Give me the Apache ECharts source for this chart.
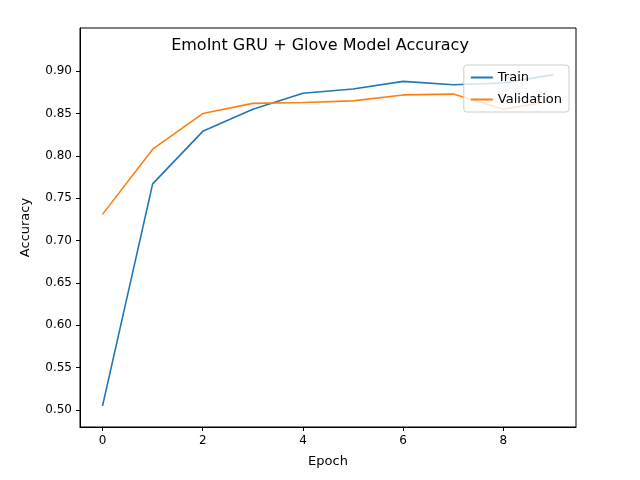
<!DOCTYPE html>
<html><head><meta charset="utf-8">
<script src="https://cdn.jsdelivr.net/npm/echarts@6/dist/echarts.min.js"></script>
<style>html,body{margin:0;background:#fff}#c{width:640px;height:480px}</style>
</head><body><div id="c"></div>
<script>
const epochs = [0,1,2,3,4,5,6,7,8,9];
const train = [0.505,0.767,0.829,0.855,0.874,0.879,0.888,0.884,0.886,0.896];
const validation = [0.731,0.808,0.850,0.862,0.863,0.865,0.872,0.873,0.855,0.865];
const xTicks = [0,2,4,6,8];
const yTicks = [0.5,0.55,0.6,0.65,0.7,0.75,0.8,0.85,0.9];
const font = 'DejaVu Sans';
const chart = echarts.init(document.getElementById('c'));
chart.setOption({
  animation:false,
  textStyle:{fontFamily:font},
  title:{text:'EmoInt GRU + Glove Model Accuracy',left:'center',top:33,textStyle:{fontFamily:font,fontSize:16,fontWeight:'normal',color:'#000'}},
  grid:{left:80,right:64,top:28,bottom:53,show:true,borderColor:'#000',borderWidth:1},
  legend:{right:71,top:65,orient:'vertical',itemWidth:22,itemHeight:2,itemGap:9,
    backgroundColor:'rgba(255,255,255,0.8)',borderColor:'#ccc',borderWidth:1,borderRadius:3,padding:[6,7],
    textStyle:{fontFamily:font,fontSize:13,color:'#000'},
    data:[{name:'Train',icon:'rect'},{name:'Validation',icon:'rect'}]},
  xAxis:{type:'value',min:-0.45,max:9.45,name:'Epoch',nameLocation:'middle',nameGap:28,
    nameTextStyle:{fontFamily:font,fontSize:13,color:'#000'},
    axisLine:{show:true,onZero:false,lineStyle:{color:'#000'}},splitLine:{show:false},
    axisTick:{show:true,inside:false,length:4,customValues:xTicks,lineStyle:{color:'#000'}},
    axisLabel:{customValues:xTicks,color:'#000',fontSize:12,fontFamily:font}},
  yAxis:{type:'value',min:0.48,max:0.951,name:'Accuracy',nameLocation:'middle',nameGap:48,
    nameTextStyle:{fontFamily:font,fontSize:13,color:'#000'},
    axisLine:{show:true,onZero:false,lineStyle:{color:'#000'}},splitLine:{show:false},
    axisTick:{show:true,inside:false,length:4,customValues:yTicks,lineStyle:{color:'#000'}},
    axisLabel:{customValues:yTicks,color:'#000',fontSize:12,fontFamily:font,formatter:v=>v.toFixed(2)}},
  series:[
    {name:'Train',type:'line',data:epochs.map((e,i)=>[e,train[i]]),showSymbol:false,lineStyle:{color:'#1f77b4',width:1.6},itemStyle:{color:'#1f77b4'}},
    {name:'Validation',type:'line',data:epochs.map((e,i)=>[e,validation[i]]),showSymbol:false,lineStyle:{color:'#ff7f0e',width:1.6},itemStyle:{color:'#ff7f0e'}}
  ]
});
</script></body></html>
